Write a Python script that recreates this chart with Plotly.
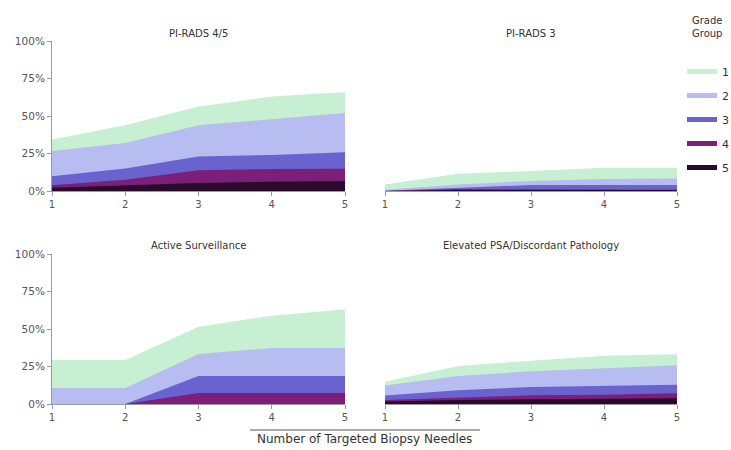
import plotly.graph_objects as go

needles = [1, 2, 3, 4, 5]
grades = ["1", "2", "3", "4", "5"]
colors = ["#c7f0d2", "#b7bdf0", "#6a63cf", "#7b1f78", "#2a0a2a"]

panel_titles = ["PI-RADS 4/5", "PI-RADS 3", "Active Surveillance", "Elevated PSA/Discordant Pathology"]
y_ticks = [0, 25, 50, 75, 100]
y_tick_text = ["0%", "25%", "50%", "75%", "100%"]

# cumulative detection (% of patients with grade group >= g)
pirads45 = {
    "1": [34.4, 43.8, 56.4, 63.0, 66.0],
    "2": [26.7, 32.0, 43.8, 48.0, 52.0],
    "3": [9.8, 15.0, 23.0, 24.0, 25.8],
    "4": [3.8, 7.5, 13.8, 14.7, 14.9],
    "5": [2.2, 4.0, 5.3, 6.2, 6.7],
}
pirads3 = {
    "1": [4.4, 11.5, 13.3, 15.5, 15.5],
    "2": [0.9, 4.4, 6.7, 8.0, 8.4],
    "3": [0.2, 2.2, 4.0, 4.0, 4.0],
    "4": [0.0, 1.3, 1.1, 0.9, 0.9],
    "5": [0.0, 0.6, 0.6, 0.6, 0.6],
}
active_surv = {
    "1": [29.3, 29.3, 51.5, 58.9, 63.1],
    "2": [10.7, 10.7, 33.3, 37.3, 37.3],
    "3": [0.0, 0.0, 18.7, 18.7, 18.7],
    "4": [0.0, 0.0, 7.3, 7.3, 7.3],
    "5": [0.0, 0.0, 0.0, 0.0, 0.0],
}
elevated_psa = {
    "1": [14.9, 25.3, 28.9, 32.2, 33.1],
    "2": [12.4, 18.7, 21.8, 23.8, 25.8],
    "3": [5.6, 9.1, 11.3, 12.2, 12.9],
    "4": [2.7, 4.4, 5.8, 6.2, 7.1],
    "5": [1.6, 2.7, 3.1, 3.6, 3.8],
}
panels = [pirads45, pirads3, active_surv, elevated_psa]

W, H = 731, 450
FONT = "DejaVu Sans"
TXT = "#333333"
TICK = "#555555"
AX = "#9a9a9a"

# panel pixel boxes (x0, x1, ytop, ybottom)
boxes = [(52, 345, 41, 191), (385, 677, 41, 191), (52, 345, 254, 404), (385, 677, 254, 404)]

fig = go.Figure()
for i, data in enumerate(panels):
    ax = "" if i == 0 else str(i + 1)
    for g, c in zip(grades, colors):
        fig.add_trace(go.Scatter(
            x=needles, y=data[g], mode="lines", fill="tozeroy",
            line=dict(width=0, color=c), fillcolor=c,
            showlegend=False, hoverinfo="skip",
            xaxis="x" + ax, yaxis="y" + ax,
        ))

# legend entries
for g, c in zip(grades, colors):
    fig.add_trace(go.Scatter(
        x=[None], y=[None], mode="lines", name=g, legendgroup=g,
        line=dict(color=c, width=5), xaxis="x", yaxis="y",
    ))

layout = dict(
    width=W, height=H, margin=dict(l=0, r=0, t=0, b=0, autoexpand=False),
    paper_bgcolor="white", plot_bgcolor="white",
    font=dict(family=FONT, size=10, color=TXT),
    showlegend=True,
    legend=dict(x=682 / W, y=1 - 57 / H, xref="container", yref="container",
                xanchor="left", yanchor="top",
                tracegroupgap=5, font=dict(family=FONT, size=11, color=TXT),
                bgcolor="rgba(0,0,0,0)", borderwidth=0),
)
annotations = []
for i, (x0, x1, yt, yb) in enumerate(boxes):
    ax = "" if i == 0 else str(i + 1)
    left = i in (0, 2)
    layout["xaxis" + ax] = dict(
        domain=[x0 / W, x1 / W], range=[1, 5], anchor="y" + ax, automargin=False,
        tickvals=needles, ticks="outside", ticklen=4, tickcolor=AX,
        showline=True, linecolor=AX, linewidth=1, showgrid=False, zeroline=False,
        tickfont=dict(family=FONT, size=10, color=TICK), fixedrange=True,
    )
    layout["yaxis" + ax] = dict(
        domain=[1 - yb / H, 1 - yt / H], range=[0, 100], anchor="x" + ax, automargin=False,
        tickvals=y_ticks, ticktext=y_tick_text,
        ticks="outside" if left else "", ticklen=4, tickcolor=AX,
        showline=left, linecolor=AX, linewidth=1, showgrid=False, zeroline=False,
        showticklabels=left, tickfont=dict(family=FONT, size=10.5, color=TICK),
        fixedrange=True,
    )
    annotations.append(dict(
        text=panel_titles[i], x=(x0 + x1) / 2 / W, y=1 - (yt - 8) / H,
        xref="paper", yref="paper", showarrow=False, xanchor="center", yanchor="middle",
        font=dict(family=FONT, size=10, color=TXT),
    ))

annotations.append(dict(
    text="Grade<br>Group", x=690 / W, y=1 - 27 / H, xref="paper", yref="paper",
    showarrow=False, xanchor="left", yanchor="middle", align="left",
    font=dict(family=FONT, size=10, color=TXT),
))
annotations.append(dict(
    text="Number of Targeted Biopsy Needles", x=364 / W, y=1 - 439 / H,
    xref="paper", yref="paper", showarrow=False, xanchor="center", yanchor="middle",
    font=dict(family=FONT, size=12, color=TXT),
))
layout["annotations"] = annotations
layout["shapes"] = [dict(type="line", xref="paper", yref="paper",
                         x0=250 / W, x1=480 / W, y0=1 - 430 / H, y1=1 - 430 / H,
                         line=dict(color="#555555", width=1))]
fig.update_layout(**layout)
fig.write_html("out.html", config={"displayModeBar": False},
               post_script="document.body.style.margin='0';document.body.style.overflow='hidden';")
